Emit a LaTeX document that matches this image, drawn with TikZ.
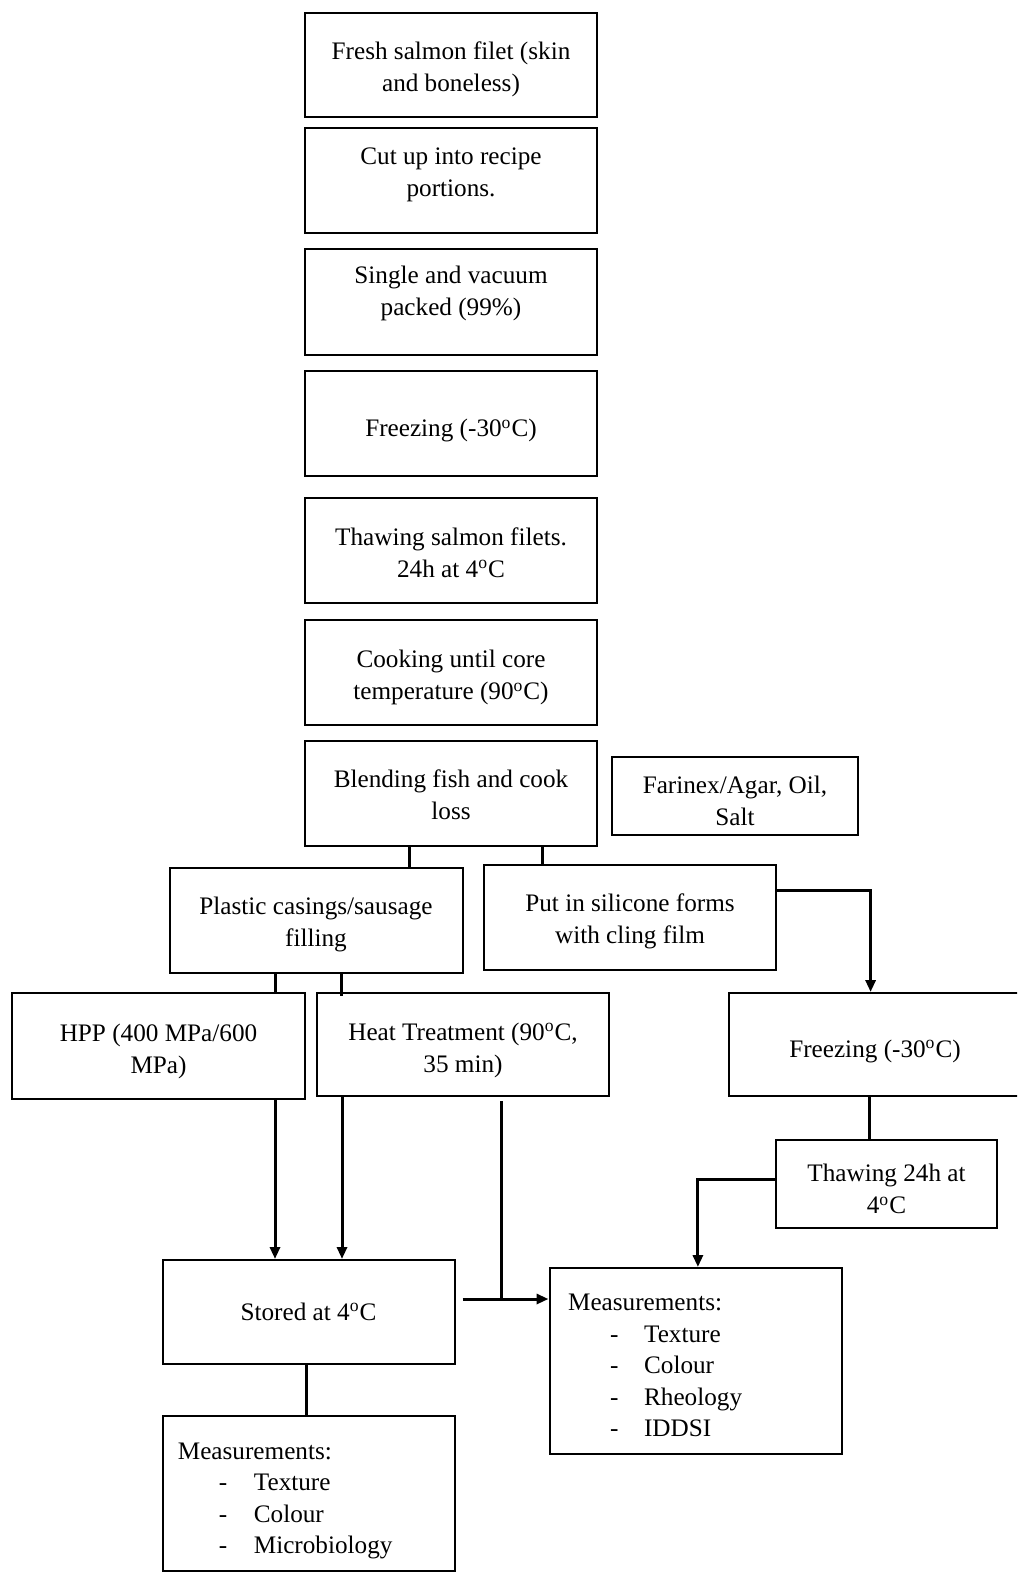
\documentclass[tikz,border=0pt]{standalone}
\usepackage{fontspec}
\setmainfont{Liberation Serif}
\usetikzlibrary{arrows.meta,calc}
\tikzset{
  box/.style={draw, line width=1pt, align=center, inner sep=0pt,
    minimum width=146pt, minimum height=52.5pt,
    font=\fontsize{12.6}{16}\selectfont},
  plain/.style={inner sep=0pt, align=left, font=\fontsize{12.6}{15.7}\selectfont},
  conn/.style={line width=1.5pt},
  arr/.style={line width=1.5pt, -{Triangle[width=5pt,length=6pt]}},
}
\newcommand{\dg}{\textsuperscript{o}}
\newcommand{\tp}[1]{\rule{0pt}{#1}}
\newcommand{\bt}[1]{\rule[-#1]{0pt}{0pt}}
\begin{document}
\begin{tikzpicture}[x=0.5pt,y=-0.5pt]
\clip (0,0) rectangle (1017,1573);
\fill[white] (0,0) rectangle (1017,1573);
% main column
\node[box, minimum height=52pt] (b1) at (451,65) {\tp{13.5pt}Fresh salmon filet (skin\\and boneless)};
\node[box] (b2) at (451,181) {Cut up into recipe\\portions.\bt{8.7pt}};
\node[box] (b3) at (451,302) {Single and vacuum\\packed (99\%)\bt{11.7pt}};
\node[box] (b4) at (451,423.5) {\tp{16pt}Freezing (-30\dg C)};
\node[box] (b5) at (451,550.7) {\tp{10.5pt}Thawing salmon filets.\\24h at 4\dg C};
\node[box] (b6) at (451,672) {\tp{14.5pt}Cooking until core\\temperature (90\dg C)};
\node[box] (b7) at (451,793) {\tp{10.5pt}Blending fish and cook\\loss};
\node[box, minimum width=123pt, minimum height=39pt] (far) at (735,796) {\tp{13.5pt}Farinex/Agar, Oil,\\Salt};
% second level
\node[box, minimum width=146.5pt] (pla) at (316,920) {\tp{13.5pt}Plastic casings/sausage\\filling};
\node[box] (sil) at (630,917) {\tp{13.5pt}Put in silicone forms\\with cling film};
% third level
\node[box, minimum width=146.5pt, minimum height=53pt] (hpp) at (158.5,1046) {\tp{14pt}HPP (400 MPa/600\\MPa)};
\node[box, minimum height=51.5pt] (heat) at (463,1044.5) {\tp{14.5pt}Heat Treatment (90\dg C,\\35 min)};
\node[box, minimum height=51.5pt] (frz2) at (875,1044.5) {\tp{15.5pt}Freezing (-30\dg C)};
\node[box, minimum width=110.5pt, minimum height=44pt] (thaw2) at (886.5,1184) {\tp{14pt}Thawing 24h at\\4\dg C};
% lower level
\node[box, minimum height=52pt] (stor) at (308.5,1312) {Stored at 4\dg C};
\node[box, minimum height=93pt] (m1) at (695.5,1361) {};
\node[plain, anchor=north west] (m1t) at (567.7,1294) {Measurements:\\
\hspace*{21pt}\makebox[17pt][l]{-}Texture\\
\hspace*{21pt}\makebox[17pt][l]{-}Colour\\
\hspace*{21pt}\makebox[17pt][l]{-}Rheology\\
\hspace*{21pt}\makebox[17pt][l]{-}IDDSI};
\node[box, minimum height=77.5pt] (m2) at (308.5,1493.5) {};
\node[plain, anchor=north west] (m2t) at (177.5,1442.5) {Measurements:\\
\hspace*{20.5pt}\makebox[17.5pt][l]{-}Texture\\
\hspace*{20.5pt}\makebox[17.5pt][l]{-}Colour\\
\hspace*{20.5pt}\makebox[17.5pt][l]{-}Microbiology};
% connectors
\coordinate (c1) at ($(b7.south west)+(105,0)$);
\draw[conn] (c1) -- (c1 |- pla.north);
\coordinate (c2) at ($(b7.south west)+(238,0)$);
\draw[conn] (c2) -- (c2 |- sil.north);
\coordinate (c3) at ($(sil.east)+(0,-27)$);
\coordinate (c3b) at ($(frz2.north west)+(142.6,0)$);
\draw[arr] (c3) -| (c3b);
\coordinate (c4) at ($(pla.south west)+(106.5,0)$);
\draw[conn] (c4) -- (c4 |- hpp.north);
\coordinate (c5) at ($(pla.south west)+(172.5,0)$);
\draw[conn] (c5) -- ($(c5 |- heat.north)+(0,4)$);
\coordinate (c6) at ($(hpp.south west)+(264,0)$);
\draw[arr] (c6) -- (c6 |- stor.north);
\coordinate (c7) at ($(heat.south west)+(26,0)$);
\draw[arr] (c7) -- (c7 |- stor.north);
\coordinate (c8) at ($(heat.south west)+(185.5,4)$);
\coordinate (c9) at ($(stor.east)+(7,-13)$);
\draw[arr] (c9) -- (c9 -| m1.west);
\draw[conn] (c8) -- (c8 |- c9);
\coordinate (c10) at ($(frz2.south west)+(141.6,0)$);
\draw[conn] (c10) -- (c10 |- thaw2.north);
\coordinate (c11) at ($(thaw2.west)+(0,-4.5)$);
\coordinate (c12) at ($(m1.north west)+(149.4,0)$);
\draw[arr] (c11) -| (c12);
\coordinate (c13) at ($(stor.south)+(-2.5,0)$);
\draw[conn] (c13) -- (c13 |- m2.north);
\end{tikzpicture}
\end{document}
